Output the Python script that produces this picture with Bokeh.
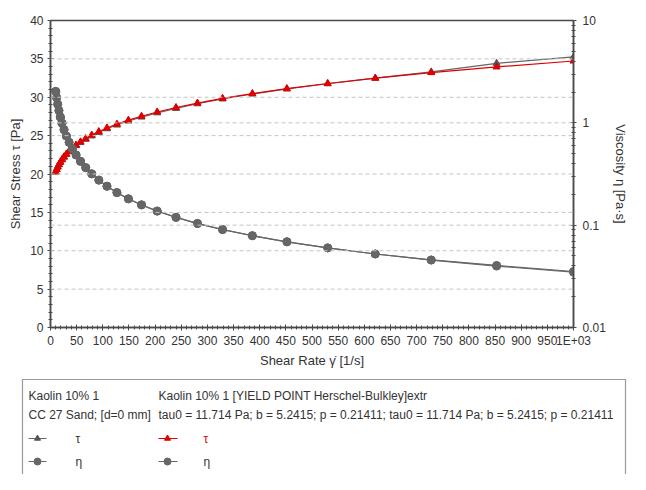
from bokeh.plotting import figure
from bokeh.models import (Range1d, LogScale, LogAxis, LinearAxis, FixedTicker, Span)
from bokeh.layouts import column
from bokeh.core.properties import value
from bokeh.embed import file_html
from bokeh.resources import INLINE

FONT = "Liberation Sans"

shear_rate = [10.0, 11.72, 13.74, 16.1, 18.9, 22.1, 25.9, 30.4, 35.6, 41.8, 48.9, 57.4, 67.3, 78.8,
              92.4, 108, 127, 149, 174, 204, 240, 281, 329, 386, 452, 530, 621, 728, 853, 1000]
tau_meas = [20.25, 20.60, 20.92, 21.22, 21.53, 21.86, 22.20, 22.55, 22.92, 23.30, 23.70, 24.10, 24.52, 24.96,
            25.42, 25.90, 26.38, 26.90, 27.42, 27.97, 28.55, 29.15, 29.78, 30.42, 31.08, 31.76, 32.48, 33.30,
            34.42, 35.25]
tau_fit = [20.30, 20.59, 20.90, 21.22, 21.55, 21.88, 22.24, 22.60, 22.98, 23.37, 23.77, 24.19, 24.62, 25.07,
           25.53, 26.00, 26.50, 27.02, 27.53, 28.08, 28.66, 29.24, 29.85, 30.48, 31.12, 31.79, 32.49, 33.21,
           33.95, 34.72]
eta_meas = [2.025, 1.758, 1.523, 1.318, 1.139, 0.989, 0.857, 0.742, 0.644, 0.557, 0.4847, 0.4199, 0.3643,
            0.3168, 0.2751, 0.2398, 0.2077, 0.1805, 0.1576, 0.1371, 0.1190, 0.1037, 0.0905, 0.0788, 0.0688,
            0.0599, 0.0523, 0.0457, 0.0404, 0.03525]
eta_fit = [2.030, 1.757, 1.521, 1.318, 1.140, 0.990, 0.8587, 0.7434, 0.6455, 0.5591, 0.4861, 0.4214, 0.3658,
           0.3181, 0.2763, 0.2407, 0.2087, 0.1813, 0.1582, 0.1376, 0.1194, 0.1041, 0.0907, 0.0790, 0.0688,
           0.0600, 0.0523, 0.0456, 0.0398, 0.0347]

x_ticks = list(range(0, 1001, 50))
x_minor = list(range(0, 1001, 10))
y_ticks = list(range(0, 41, 5))
y_minor = list(range(0, 41, 1))
eta_ticks = [0.01, 0.1, 1, 10]
eta_minor = [m * d for d in (0.01, 0.1, 1) for m in range(2, 10)]

legend_col1 = ["Kaolin 10% 1", "CC 27 Sand; [d=0 mm]"]
legend_col2 = ["Kaolin 10% 1  [YIELD POINT Herschel-Bulkley]extr",
               "tau0 = 11.714 Pa; b = 5.2415; p = 0.21411; tau0 = 11.714 Pa; b = 5.2415; p = 0.21411"]

AX = "#4a4a4a"
GRID = "#c4c4c4"
RED = "#e00000"
GRAY = "#666666"
TXT = "#333333"

p = figure(width=630, height=374, output_backend="svg", toolbar_location=None,
           x_range=Range1d(0, 1000), y_range=Range1d(0, 40),
           min_border_left=50, min_border_right=50, min_border_top=20, min_border_bottom=47,
           x_axis_location=None, y_axis_location=None)
p.extra_y_ranges = {"eta": Range1d(0.01, 10)}
p.extra_y_scales = {"eta": LogScale()}
p.outline_line_color = AX
p.outline_line_width = 1.5
p.xgrid.visible = False
p.ygrid.visible = False

def style(ax, label):
    ax.axis_label = label
    ax.axis_label_text_font = FONT
    ax.axis_label_text_font_size = "13px"
    ax.axis_label_text_font_style = "normal"
    ax.axis_label_text_color = TXT
    ax.major_label_text_font = FONT
    ax.major_label_text_font_size = "12px"
    ax.major_label_text_color = TXT
    ax.axis_line_color = AX
    ax.axis_line_width = 1.5
    ax.major_tick_line_color = AX
    ax.minor_tick_line_color = AX
    ax.major_tick_in = 3
    ax.major_tick_out = 3
    ax.minor_tick_in = 2
    ax.minor_tick_out = 2

xa = LinearAxis(ticker=FixedTicker(ticks=x_ticks, minor_ticks=x_minor))
style(xa, "Shear Rate \u03b3\u0307 [1/s]")
xa.major_label_overrides = {1000: "1E+03"}
xa.major_label_standoff = 3
xa.axis_label_standoff = 2
p.add_layout(xa, "below")

ya = LinearAxis(ticker=FixedTicker(ticks=y_ticks, minor_ticks=y_minor))
style(ya, "Shear Stress \u03c4 [Pa]")
ya.major_label_standoff = 4
ya.axis_label_standoff = 4
p.add_layout(ya, "left")

ra = LogAxis(y_range_name="eta", ticker=FixedTicker(ticks=eta_ticks, minor_ticks=eta_minor))
style(ra, "Viscosity \u03b7 [Pa\u00b7s]")
ra.major_label_overrides = {0.01: "0.01", 0.1: "0.1", 1: "1", 10: "10"}
ra.major_label_standoff = 6
ra.axis_label_standoff = 4
p.add_layout(ra, "right")

for t in y_ticks[1:-1]:
    p.add_layout(Span(location=t, dimension="width", line_color=GRID, line_dash="4 3", line_width=1))
for t in eta_ticks[1:-1]:
    p.add_layout(Span(location=t, dimension="width", y_range_name="eta", line_color=GRID,
                      line_dash="4 3", line_width=1))

# measured tau
p.line(shear_rate, tau_meas, line_color=GRAY, line_width=1.2)
p.scatter(shear_rate, tau_meas, marker="triangle", size=7, fill_color="#555555", line_color="#555555")
# fit tau
p.line(shear_rate, tau_fit, line_color=RED, line_width=1.2)
p.scatter(shear_rate, tau_fit, marker="triangle", size=7, fill_color=RED, line_color=RED)
# viscosity
p.line(shear_rate, eta_meas, line_color=GRAY, line_width=1.2, y_range_name="eta")
p.line(shear_rate, eta_fit, line_color=GRAY, line_width=1.2, y_range_name="eta")
p.scatter(shear_rate, eta_meas, marker="circle", size=8, fill_color=GRAY, line_color=GRAY, y_range_name="eta")
p.scatter(shear_rate, eta_fit, marker="circle", size=8, fill_color=GRAY, line_color=GRAY, y_range_name="eta")

# legend panel
H2 = 100
q = figure(width=630, height=H2, output_backend="svg", toolbar_location=None,
           x_range=Range1d(0, 630), y_range=Range1d(H2, 0),
           min_border_left=0, min_border_right=0, min_border_top=0, min_border_bottom=0,
           x_axis_location=None, y_axis_location=None)
q.xgrid.visible = False
q.ygrid.visible = False
q.outline_line_color = None
for fig in (p, q):
    try:
        fig.frame_align = False
    except Exception:
        pass

BOX = "#9a9a9a"
q.line([22, 22, 625, 625], [H2, 5, 5, H2], line_color=BOX, line_width=1.2)

tf = value(FONT)
q.text([28, 28], [21, 40], text=legend_col1, text_font=tf, text_font_size="12px",
       text_color=TXT, text_baseline="middle")
q.text([158, 158], [21, 40], text=legend_col2, text_font=tf, text_font_size="12px",
       text_color=TXT, text_baseline="middle")
# samples
q.line([28, 46], [64, 64], line_color=GRAY, line_width=1)
q.scatter([37], [64], marker="triangle", size=6, fill_color="#555555", line_color="#555555")
q.line([28, 46], [87, 87], line_color=GRAY, line_width=1)
q.scatter([37], [87], marker="circle", size=7, fill_color=GRAY, line_color=GRAY)
q.line([158, 177], [64, 64], line_color=RED, line_width=1)
q.scatter([167], [64], marker="triangle", size=6, fill_color=RED, line_color=RED)
q.line([158, 177], [87, 87], line_color=GRAY, line_width=1)
q.scatter([167], [87], marker="circle", size=7, fill_color=GRAY, line_color=GRAY)
q.text([75, 75, 203, 203], [64, 87, 64, 87], text=["\u03c4", "\u03b7", "\u03c4", "\u03b7"],
       text_font=tf, text_font_size="12px", text_color=[TXT, TXT, RED, TXT], text_baseline="middle")

layout = column(p, q, spacing=0)
open("out.html", "w").write(file_html(layout, INLINE))
